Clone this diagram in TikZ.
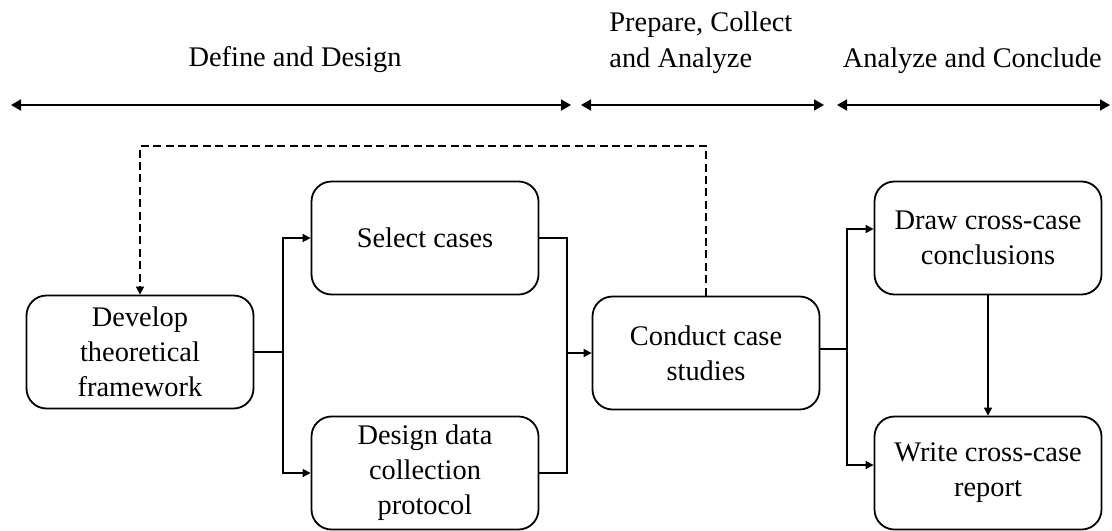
\documentclass[tikz,border=0pt]{standalone}
\usepackage{fontspec}
\setmainfont{Liberation Serif}
\usetikzlibrary{arrows.meta}

\begin{document}
\begin{tikzpicture}[x=0.5pt,y=-0.5pt,
   every node/.style={font=\fontsize{14.2}{17.5}\selectfont},
   stage/.style={draw,rounded corners=10pt,line width=0.9pt,align=center,
      minimum width=113.5pt,minimum height=56.5pt,inner sep=2pt},
   link/.style={line width=0.8pt,-{Triangle[length=4pt,width=4pt]}},
   feedback/.style={link,dash pattern=on 4pt off 2.2pt},
   span/.style={line width=0.9pt,
      {Triangle[length=5pt,width=5.5pt]}-{Triangle[length=5pt,width=5.5pt]}}]
\useasboundingbox (0,0) rectangle (1112,530);

% phases
\node[anchor=base] (ph1) at (295,66) {Define and Design};
\node[anchor=base west,align=left,inner sep=0pt] (ph2) at (609,67) {Prepare, Collect\\and Analyze};
\node[anchor=base east,inner sep=0pt] (ph3) at (1102,67) {Analyze and Conclude};
\foreach \a/\b [count=\i] in {11/571,581/824,837/1110}
{
  \coordinate (s\i) at (\a,105);
  \coordinate (e\i) at (\b,105);
  \draw[span] (s\i) -- (e\i);
}

% steps
\node[stage] (dev) at (140,352) {Develop\\theoretical\\framework};
\node[stage] (sel) at (425,238) {Select cases};
\node[stage] (des) at (425,473) {Design data\\collection\\protocol};
\node[stage] (cond) at (706,353) {Conduct case\\studies};
\node[stage] (drw) at (988,238) {Draw cross-case\\conclusions};
\node[stage] (wrt) at (988,473) {Write cross-case\\report};

% flow
\coordinate (split1) at (283,352);
\coordinate (merge) at (567,353);
\coordinate (split2) at (847,349);
\coordinate (loop) at (0,146);

\draw[line width=0.8pt] (dev.east) -- (split1);
\draw[link] (split1) |- (sel.west);
\draw[link] (split1) |- (des.west);
\draw[line width=0.8pt] (sel.east) -| (merge) |- (des.east);
\draw[link] (merge) -- (cond.west);
\draw[line width=0.8pt] ([yshift=2pt]cond.east) -- (split2);
\draw[link] (split2) |- ([yshift=4.5pt]drw.west);
\draw[link] (split2) |- ([yshift=4pt]wrt.west);
\draw[link] (drw) -- (wrt);
\draw[feedback] (cond.north) -- (cond.north |- loop) -| (dev.north);
\end{tikzpicture}
\end{document}
